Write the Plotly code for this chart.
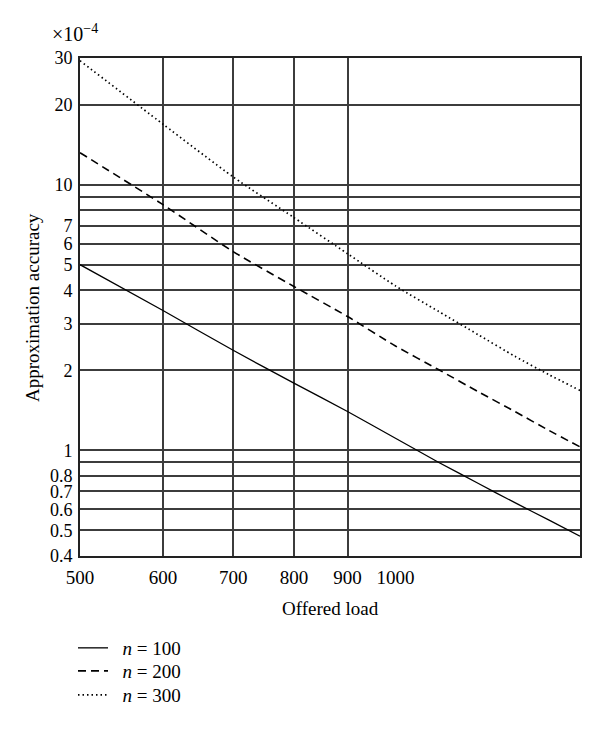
import plotly.graph_objects as go
import math

# Offered load (x) and approximation accuracy (×10^-4)
load = [500, 600, 700, 800, 900, 1000, 1100, 1200, 1300, 1400, 1500]
acc_n100 = [5.0, 3.36, 2.38, 1.79, 1.40, 1.11, 0.90, 0.75, 0.635, 0.547, 0.475]
acc_n200 = [13.2, 8.41, 5.6, 4.14, 3.19, 2.47, 2.01, 1.66, 1.40, 1.19, 1.03]
acc_n300 = [29.3, 16.9, 10.7, 7.52, 5.5, 4.16, 3.33, 2.72, 2.26, 1.93, 1.68]

series_names = ["&nbsp;&nbsp;<i>n</i> = 100", "&nbsp;&nbsp;<i>n</i> = 200", "&nbsp;&nbsp;<i>n</i> = 300"]
dash_styles = ["solid", "8px,5px", "1.5px,3px"]
line_widths = [1.3, 1.6, 1.7]
legend_ids = ["legend", "legend2", "legend3"]

x_grid_vals = [600, 700, 800, 900]
x_label_vals = [500, 600, 700, 800, 900, 1000]
x_label_text = ["500", "600", "700", "800", "900", "1000"]

y_tick_vals = [0.4, 0.5, 0.6, 0.7, 0.8, 0.9, 1, 2, 3, 4, 5, 6, 7, 8, 9, 10, 20, 30]
y_tick_text = ["0.4", "0.5", "0.6", "0.7", "0.8", "", "1", "2", "3", "4", "5", "6", "7", "", "", "10", "20", "30"]

FONT = "Liberation Serif"
FS = 19
GRID = "#3c3c3c"

fig = go.Figure()
for name, ys, dash, w, lg in zip(series_names, [acc_n100, acc_n200, acc_n300],
                                 dash_styles, line_widths, legend_ids):
    fig.add_trace(go.Scatter(
        x=load, y=ys, mode="lines", name=name, legend=lg,
        line=dict(color="black", width=w, dash=dash, shape="spline", smoothing=0.6),
    ))

# invisible trace to bind the label axis
fig.add_trace(go.Scatter(x=[500, 1500], y=[1, 1], xaxis="x2", mode="lines",
                         line=dict(width=0), showlegend=False, hoverinfo="skip"))

xr = [math.log10(500), math.log10(1500)]

def legend_at(yc):
    # yc: screen y of row centre (page pixels); page offset of 8px body margin
    return dict(x=-0.014, y=(548 - (yc - 8)) / 498.0, xanchor="left", yanchor="middle",
                font=dict(family=FONT, size=FS, color="black"),
                itemwidth=30, bgcolor="rgba(0,0,0,0)", borderwidth=0)

fig.update_layout(
    width=600, height=740,
    margin=dict(l=72, r=28, t=50, b=192, autoexpand=False),
    paper_bgcolor="white", plot_bgcolor="white",
    font=dict(family=FONT, size=FS, color="black"),
    showlegend=True,
    legend=legend_at(648),
    legend2=legend_at(671),
    legend3=legend_at(695),
    xaxis=dict(type="log", range=xr, tickvals=x_grid_vals, showticklabels=False,
               showgrid=True, gridcolor=GRID, gridwidth=1.5,
               showline=True, linecolor="#222", linewidth=1.8, mirror=True,
               ticks="", zeroline=False),
    xaxis2=dict(type="log", range=xr, overlaying="x", side="bottom",
                tickvals=x_label_vals, ticktext=x_label_text, showgrid=False,
                showline=False, ticks="", tickfont=dict(family=FONT, size=FS),
                ticklabelstandoff=8),
    yaxis=dict(type="log", range=[math.log10(0.4), math.log10(30)],
               tickvals=y_tick_vals, ticktext=y_tick_text,
               showgrid=True, gridcolor=GRID, gridwidth=1.5,
               showline=True, linecolor="#222", linewidth=1.8, mirror=True,
               ticks="", zeroline=False, tickfont=dict(family=FONT, size=18),
               ticklabelstandoff=2),
    annotations=[
        dict(text="Offered load", xref="paper", yref="paper", x=0.5, y=-0.105,
             xanchor="center", yanchor="middle", showarrow=False,
             font=dict(family=FONT, size=FS)),
        dict(text="Approximation accuracy", xref="paper", yref="paper", x=-0.094, y=0.498,
             xanchor="center", yanchor="middle", textangle=-90, showarrow=False,
             font=dict(family=FONT, size=FS)),
        dict(text="×10<sup>−4</sup>", xref="paper", yref="paper", x=-0.06, y=1.05,
             xanchor="left", yanchor="middle", showarrow=False,
             font=dict(family=FONT, size=20)),
    ],
)

fig.write_html("out.html")
